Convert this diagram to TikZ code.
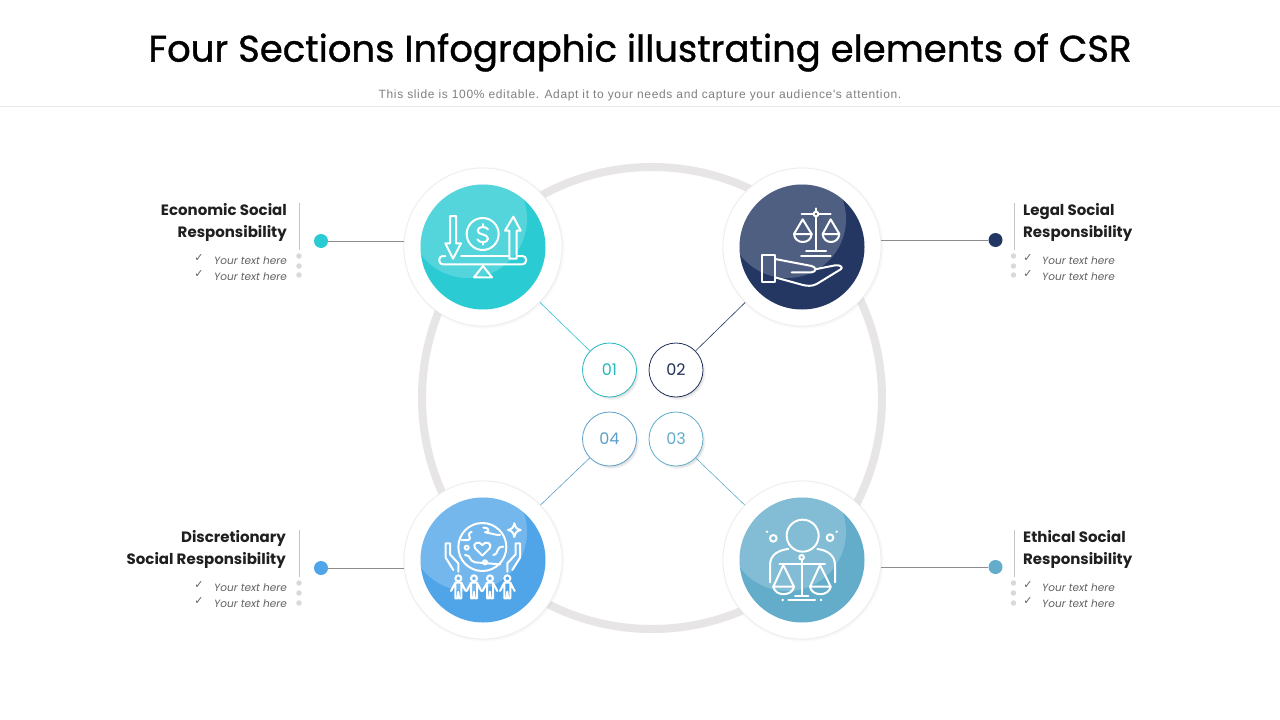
\documentclass[tikz,border=0pt]{standalone}
\usepackage{fontspec}
\setmainfont{Poppins}
\newfontfamily\titlefont[FakeBold=1]{Poppins}
\newfontfamily\subfont[LetterSpace=5.5]{Liberation Sans}
\newfontfamily\tickfont{DejaVu Sans}
\usetikzlibrary{shadows,calc}
\definecolor{cteal}{HTML}{2ACBD3}
\definecolor{cnavy}{HTML}{243763}
\definecolor{cblue}{HTML}{50A5E8}
\definecolor{csteel}{HTML}{63ADCB}
\definecolor{cring}{HTML}{E7E5E6}
\definecolor{cvline}{HTML}{C4C4C4}
\definecolor{cnumd}{HTML}{5C9FCB}
\tikzset{
  badge/.style={circle,fill=white,draw=black!7,line width=.8pt,minimum size=158pt,inner sep=0pt,
    circular drop shadow={shadow xshift=.5pt,shadow yshift=-.5pt,shadow scale=1.03,opacity=.25}},
  numc/.style={circle,fill=white,draw=#1,text=#1,line width=.8pt,minimum size=54pt,inner sep=0pt,
    font=\fontsize{16}{18}\selectfont,
    circular drop shadow={shadow xshift=2pt,shadow yshift=-2.5pt,shadow scale=1.02,opacity=.3}},
  dotn/.style={circle,fill=#1,minimum size=14pt,inner sep=0pt},
  grayd/.style={circle,fill=black!15,minimum size=5.5pt,inner sep=0pt},
  head/.style={font=\fontsize{15}{22}\selectfont\bfseries,text=black!88,inner sep=0pt},
  item/.style={font=\fontsize{10.5}{12}\selectfont\itshape,text=black!62,inner sep=0pt},
  tick/.style={font=\fontsize{11}{12}\tickfont,text=black!62,inner sep=0pt},
  ico/.style={draw=white,line width=2pt,line join=round,line cap=round},
  conn/.style={draw=#1,line width=.6pt}
}
\newcommand\csrdisc[4]{% name x y colour
  \node[badge] (#1) at (#2,#3) {};
  \fill[#4] (#2,#3) circle[radius=62.5];
  \begin{scope}
    \clip (#2,#3) circle[radius=62.5];
    \fill[white,opacity=.2] ($(#2,#3)+(-15,-28)$) circle[radius=59];
  \end{scope}
}
\newcommand\csrperson[2]{%
  \draw[ico] (#1,#2) circle[radius=9];
  \draw[ico] (#1-9,#2+13) -- (#1+9,#2+13) -- (#1+22,#2+38) (#1-9,#2+13) -- (#1-22,#2+38)
    (#1-9,#2+13) -- (#1-9,#2+60) -- (#1-2,#2+60) -- (#1,#2+40) -- (#1+2,#2+60) -- (#1+9,#2+60) -- (#1+9,#2+13);
}
\begin{document}
\begin{tikzpicture}[x=1pt,y=-1pt]
\useasboundingbox (0,0) rectangle (1280,720);
\fill[white] (0,0) rectangle (1280,720);
\node[font=\fontsize{37}{44}\titlefont,text=black,inner sep=0pt] (title) at (640,52.5) {Four Sections Infographic illustrating elements of CSR};
\node[font=\fontsize{12}{14}\subfont,text=black!50,inner sep=0pt] (subtitle) at (640,95.5) {This slide is 100\% editable. Adapt it to your needs and capture your audience's attention.};
\draw[black!9,line width=.8pt] (0,106.5) -- (1280,106.5);
% ring
\draw[cring,line width=8pt] (652,398) ellipse[x radius=230,y radius=231];
% badges
\csrdisc{b1}{483}{247}{cteal}
\csrdisc{b2}{802}{247}{cnavy}
\csrdisc{b3}{802}{560}{csteel}
\csrdisc{b4}{483}{560}{cblue}
% numbers
\node[numc=cteal!90!black] (n1) at (609.5,370) {01};
\node[numc=cnavy!90!black] (n2) at (676,370) {02};
\node[numc=csteel] (n3) at (676,439) {03};
\node[numc=cnumd] (n4) at (609.5,439) {04};
\draw[conn=cteal!80!cblue] (b1) -- (n1);
\draw[conn=cnavy] (b2) -- (n2);
\draw[conn=csteel] (b3) -- (n3);
\draw[conn=cnumd] (b4) -- (n4);
% side dots
\node[dotn=cteal] (d1) at (321,241) {};
\node[dotn=cnavy] (d2) at (995.5,240) {};
\node[dotn=csteel] (d3) at (995.5,567) {};
\node[dotn=cblue] (d4) at (321,568) {};
\draw[conn=black!45] (d1) -- (d1 -| b1.west);
\draw[conn=black!45] (d2) -- (d2 -| b2.east);
\draw[conn=black!45] (d3) -- (d3 -| b3.east);
\draw[conn=black!45] (d4) -- (d4 -| b4.west);
% vertical rules and gray dots
\draw[cvline,line width=.7pt] (299.5,203) -- (299.5,250);
\draw[cvline,line width=.7pt] (1014.5,203) -- (1014.5,250);
\draw[cvline,line width=.7pt] (299.5,530) -- (299.5,577);
\draw[cvline,line width=.7pt] (1014.5,530) -- (1014.5,577);
\foreach \x in {299,1013.5}{\foreach \y in {256,266,275,583,593,603}{
  \node[grayd] at (\x,\y) {};
}}
% texts
\node[head,anchor=east,align=right] (t1) at (287,222) {Economic Social\\Responsibility};
\node[head,anchor=west,align=left] (t2) at (1023,222) {Legal Social\\Responsibility};
\node[head,anchor=west,align=left] (t3) at (1023,549) {Ethical Social\\Responsibility};
\node[head,anchor=east,align=right] (t4) at (286,549) {Discretionary\\Social Responsibility};
\foreach \y in {261,277,588,604}{
  \node[item,anchor=east] at (287,\y) {Your text here};
  \node[item,anchor=west] at (1042,\y) {Your text here};
  \node[tick] at (199,\y-3) {✓};
  \node[tick] at (1028,\y-3) {✓};
}
% icon 1
\begin{scope}[shift={(400,160)},x=.33333pt,y=-.33333pt]
  \draw[ico] (150,168) -- (168,168) -- (168,250) -- (183,250) -- (159,296) -- (136,250) -- (150,250) -- cycle;
  \draw[ico] (340,170) -- (362,212) -- (350,212) -- (350,296) -- (328,296) -- (328,212) -- (315,212) -- cycle;
  \draw[ico] (248,222) circle[radius=48];
  \draw[ico] (264,208) .. controls (258,198) and (234,198) .. (233,212) .. controls (232,226) and (264,220) .. (264,236) .. controls (263,250) and (238,250) .. (232,238);
  \draw[ico] (248,192) -- (248,201) (248,245) -- (248,254);
  \draw[ico] (183,288) -- (326,288);
  \draw[ico,rounded corners=3.5pt] (352,288) -- (378,288) -- (378,313) -- (118,313) -- (118,288) -- (136,288);
  \draw[ico] (222,352) -- (276,352) -- (249,318) -- cycle;
\end{scope}
% icon 2
\begin{scope}[shift={(720,160)},x=.33333pt,y=-.33333pt]
  \draw[ico] (288,170) -- (288,272) (245,163) -- (281,163) (295,163) -- (332,163) (288,145) -- (288,155);
  \draw[ico] (288,162) circle[radius=7];
  \draw[ico] (258,272) -- (318,272) (243,288) -- (332,288);
  \draw[ico] (248,178) -- (222,222) -- (275,222) -- cycle;
  \draw[ico] (222,222) .. controls (224,254) and (273,254) .. (275,222);
  \draw[ico] (332,178) -- (308,222) -- (358,222) -- cycle;
  \draw[ico] (308,222) .. controls (310,254) and (356,254) .. (358,222);
  \draw[ico] (125,285) rectangle (165,367);
  \draw[ico] (165,297) -- (275,318) .. controls (290,322) and (290,335) .. (275,337) -- (215,337);
  \draw[ico] (285,328) -- (345,316) .. controls (362,314) and (370,322) .. (362,328) -- (290,372) .. controls (275,380) and (260,378) .. (245,374) -- (165,352);
\end{scope}
% icon 3 (steel)
\begin{scope}[shift={(720,475)},x=.33333pt,y=-.33333pt]
  \draw[ico] (248,182) circle[radius=48];
  \draw[ico] (150,322) -- (150,270) .. controls (150,240) and (175,225) .. (205,222);
  \draw[ico] (345,322) -- (345,270) .. controls (345,240) and (320,225) .. (292,222);
  \draw[ico] (245,254) -- (245,362);
  \draw[ico] (245,247) circle[radius=7];
  \draw[ico] (178,267) -- (315,267) (205,375) -- (285,375) (225,362) -- (265,362);
  \draw[ico] (190,270) -- (160,335) -- (222,335) -- cycle;
  \draw[ico] (160,335) .. controls (165,365) and (217,365) .. (222,335);
  \draw[ico] (300,270) -- (270,335) -- (332,335) -- cycle;
  \draw[ico] (270,335) .. controls (275,365) and (327,365) .. (332,335);
  \draw[ico] (160,190) circle[radius=10] (330,188) circle[radius=10];
  \fill[white] (141,170) circle[radius=4] (350,170) circle[radius=4] (188,375) circle[radius=4] (303,375) circle[radius=4];
\end{scope}
% icon 4 (blue)
\begin{scope}[shift={(400,475)},x=.33333pt,y=-.33333pt]
  \draw[ico] (247,216) circle[radius=72];
  \draw[ico] (247,242) -- (225,220) .. controls (215,205) and (238,195) .. (247,210) .. controls (256,195) and (279,205) .. (269,220) -- cycle;
  \draw[ico] (250,158) .. controls (270,158) and (270,172) .. (255,172) .. controls (275,175) and (285,180) .. (300,180);
  \draw[ico] (215,170) .. controls (195,180) and (220,190) .. (205,195) -- (185,195);
  \draw[ico] (195,240) .. controls (215,240) and (205,258) .. (225,262) -- (300,268);
  \draw[ico] (310,215) .. controls (285,215) and (300,235) .. (280,240);
  \draw[ico] (200,218) circle[radius=6] (255,262) circle[radius=6];
  \draw[ico] (343,145) .. controls (346,158) and (350,162) .. (362,165) .. controls (350,168) and (346,172) .. (343,186) .. controls (340,172) and (336,168) .. (324,165) .. controls (336,162) and (340,158) .. (343,145) -- cycle;
  \draw[ico] (137,205) -- (150,205) -- (150,238) -- (175,265) -- (175,290) (137,205) -- (137,248) -- (160,285);
  \draw[ico] (360,205) -- (347,205) -- (347,238) -- (322,265) -- (322,290) (360,205) -- (360,248) -- (337,285);
  \csrperson{175}{310}
  \csrperson{222}{310}
  \csrperson{270}{310}
  \csrperson{322}{310}
\end{scope}
\end{tikzpicture}
\end{document}
